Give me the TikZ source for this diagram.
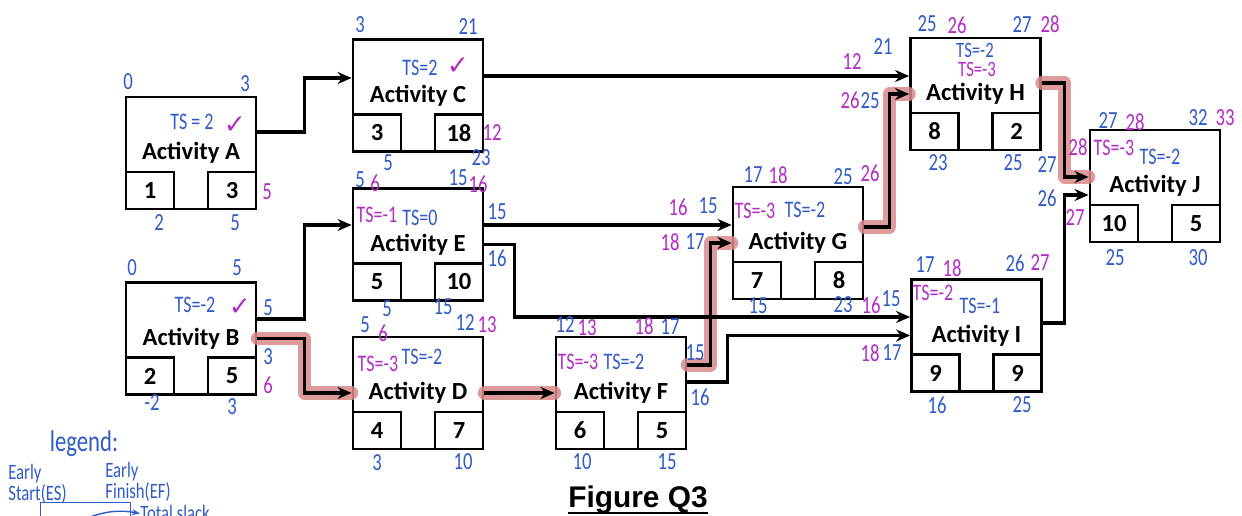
\documentclass[tikz,border=0pt]{standalone}
\usepackage{fontspec}
\setmainfont{Carlito}
\newfontfamily\handfont[FakeStretch=0.76]{Carlito}
\newfontfamily\symfont{DejaVu Sans}
\newfontfamily\figfont{Liberation Sans}
\usepackage{xcolor}
\definecolor{penblue}{HTML}{2E5BC8}
\definecolor{penpink}{HTML}{B22CC4}
\definecolor{hilite}{HTML}{D98A8A}
\usetikzlibrary{arrows.meta,calc}

\begin{document}
\begin{tikzpicture}[x=0.02cm,y=-0.02cm,
  act/.style={rectangle,draw,line width=1.6pt,minimum width=2.6cm,minimum height=2.24cm,inner sep=0pt,font=\bfseries\fontsize{14}{15}\selectfont},
  dur/.style={rectangle,draw,line width=1.6pt,minimum width=0.96cm,minimum height=0.74cm,inner sep=0pt,font=\bfseries\fontsize{14}{16}\selectfont},
  bl/.style={text=penblue,inner sep=0pt,font=\handfont\fontsize{14}{14}\selectfont},
  pk/.style={bl,text=penpink},
  tsb/.style={bl,font=\handfont\fontsize{13.5}{13.5}\selectfont},
  tsp/.style={tsb,text=penpink},
  tick/.style={text=penpink,inner sep=0pt,font=\symfont\fontsize{15}{15}\selectfont},
  arr/.style={-{Stealth[length=2.8mm,width=2.4mm]},line width=1.8pt},
  crit/.style={draw=hilite,line width=7.5pt,line cap=round,line join=round,opacity=0.85}
]
\useasboundingbox (0,0) rectangle (1242,516);
\clip (0,0) rectangle (1242,516);

% activity boxes
\node[act] (A) at (191,153) {Activity A};
\node[act] (B) at (191,338.5) {Activity B};
\node[act] (C) at (418,95.5) {Activity C};
\node[act] (E) at (418,244.5) {Activity E};
\node[act] (D) at (418,393) {Activity D};
\node[act] (F) at (621,393) {Activity F};
\node[act] (G) at (798,243) {Activity G};
\node[act] (H) at (975.5,94) {Activity H};
\node[act] (I) at (976.5,335.5) {Activity I};
\node[act] (J) at (1155,186) {Activity J};

% number and duration boxes
\node[dur,anchor=south west] (A1) at (A.south west) {1};
\node[dur,anchor=south east] (A2) at (A.south east) {3};
\node[dur,anchor=south west] (B1) at (B.south west) {2};
\node[dur,anchor=south east] (B2) at (B.south east) {5};
\node[dur,anchor=south west] (C1) at (C.south west) {3};
\node[dur,anchor=south east] (C2) at (C.south east) {18};
\node[dur,anchor=south west] (D1) at (D.south west) {4};
\node[dur,anchor=south east] (D2) at (D.south east) {7};
\node[dur,anchor=south west] (E1) at (E.south west) {5};
\node[dur,anchor=south east] (E2) at (E.south east) {10};
\node[dur,anchor=south west] (F1) at (F.south west) {6};
\node[dur,anchor=south east] (F2) at (F.south east) {5};
\node[dur,anchor=south west] (G1) at (G.south west) {7};
\node[dur,anchor=south east] (G2) at (G.south east) {8};
\node[dur,anchor=south west] (H1) at (H.south west) {8};
\node[dur,anchor=south east] (H2) at (H.south east) {2};
\node[dur,anchor=south west] (I1) at (I.south west) {9};
\node[dur,anchor=south east] (I2) at (I.south east) {9};
\node[dur,anchor=south west] (J1) at (J.south west) {10};
\node[dur,anchor=south east] (J2) at (J.south east) {5};

% critical path
\draw[crit] (B.east) -- ++(47,0) |- (D.west);
\draw[crit] (D.east) -- (F.west);
\draw[crit] ($(F.east)+(0,-28)$) -- ++(23,0) |- (G.west);
\draw[crit] ($(G.east)+(0,-16)$) -- ++(25,0) |- (H.west);
\draw[crit] ($(H.east)+(0,-11)$) -- ++(23,0) |- ($(J.west)+(0,-9)$);

% links
\coordinate (c2) at ($(C.east)+(0,-19.5)$);
\coordinate (e1) at ($(E.east)+(0,-19.5)$);
\draw[arr] ($(A.east)+(0,-21)$) -- ++(47,0) |- ($(C.west)+(0,-17.5)$);
\draw[arr] ($(B.east)+(0,-19.5)$) -- ++(47,0) |- ($(E.west)+(0,-19.5)$);
\draw[arr] (B.east) -- ++(47,0) |- (D.west);
\draw[arr] (c2) -- (c2 -| H.west);
\draw[arr] (e1) -- (e1 -| G.west);
\draw[arr] (E.east) -- ++(30,0) |- ($(I.west)+(0,-18.5)$);
\draw[arr] (D.east) -- (F.west);
\draw[arr] ($(F.east)+(0,-28)$) -- ++(23,0) |- (G.west);
\draw[arr] ($(F.east)+(0,-11)$) -- ++(40,0) |- (I.west);
\draw[arr] ($(G.east)+(0,-16)$) -- ++(25,0) |- (H.west);
\draw[arr] ($(H.east)+(0,-11)$) -- ++(23,0) |- ($(J.west)+(0,-9)$);
\draw[arr] ($(I.east)+(0,-12.5)$) -- ++(22,0) |- ($(J.west)+(0,9)$);

% notes on A
\node[bl] (esA) at (128,82) {0};
\node[bl] (efA) at (245,84) {3};
\node[tsb] (tsA) at (192,122) {TS = 2};
\node[tick] (okA) at (235,125) {✓};
\node[pk] (slA) at (267,192) {5};
\node[bl] (lsA) at (159,223) {2};
\node[bl] (lfA) at (235,223) {5};
% notes on B
\node[bl] (esB) at (132,268) {0};
\node[bl] (efB) at (237,268) {5};
\node[tsb] (tsB) at (195,305) {TS=-2};
\node[tick] (okB) at (240,307) {✓};
\node[bl] (outB1) at (268,308) {5};
\node[bl] (outB2) at (268,357) {3};
\node[pk] (outB3) at (268,385) {6};
\node[bl] (lsB) at (152,403) {-2};
\node[bl] (lfB) at (232,407) {3};
% notes on C
\node[bl] (esC) at (360,25) {3};
\node[bl] (efC) at (468,27) {21};
\node[tsb] (tsC) at (420,68) {TS=2};
\node[tick] (okC) at (458,66) {✓};
\node[pk] (slC) at (492,133) {12};
\node[bl] (lsC) at (388,163) {5};
\node[bl] (lfC) at (481,158) {23};
% notes on E
\node[bl] (esE) at (360,180) {5};
\node[pk] (esE2) at (375,183) {6};
\node[bl] (efE) at (458,178) {15};
\node[pk] (efE2) at (478,184) {16};
\node[tsp] (tsE) at (377,215) {TS=-1};
\node[tsb] (tsE2) at (420,218) {TS=0};
\node[bl] (outE1) at (497,212) {15};
\node[bl] (outE2) at (497,258) {16};
\node[bl] (lsE) at (387,309) {5};
\node[bl] (lfE) at (443,307) {15};
% notes on D
\node[bl] (esD) at (365,325) {5};
\node[pk] (esD2) at (383,333) {6};
\node[bl] (efD) at (465,323) {12};
\node[pk] (efD2) at (487,325) {13};
\node[tsp] (tsD) at (378,364) {TS=-3};
\node[tsb] (tsD2) at (422,357) {TS=-2};
\node[bl] (lsD) at (377,463) {3};
\node[bl] (lfD) at (463,462) {10};
% notes on F
\node[bl] (esF) at (565,325) {12};
\node[pk] (esF2) at (587,328) {13};
\node[pk] (efF2) at (644,326) {18};
\node[bl] (efF) at (670,327) {17};
\node[tsp] (tsF) at (578,362) {TS=-3};
\node[tsb] (tsF2) at (624,362) {TS=-2};
\node[bl] (outF1) at (695,353) {15};
\node[bl] (outF2) at (700,397) {16};
\node[bl] (lsF) at (582,462) {10};
\node[bl] (lfF) at (667,462) {15};
% notes on G
\node[bl] (esG) at (753,175) {17};
\node[pk] (esG2) at (778,175) {18};
\node[bl] (efG) at (843,177) {25};
\node[pk] (efG2) at (870,173) {26};
\node[tsp] (tsG) at (755,211) {TS=-3};
\node[tsb] (tsG2) at (805,210) {TS=-2};
\node[pk] (inG1) at (678,207) {16};
\node[bl] (inG2) at (708,206) {15};
\node[pk] (inG3) at (670,242) {18};
\node[bl] (inG4) at (695,242) {17};
\node[bl] (lsG) at (758,306) {15};
\node[bl] (lfG) at (843,305) {23};
% notes on H
\node[bl] (esH) at (927,24) {25};
\node[pk] (esH2) at (957,25) {26};
\node[bl] (efH) at (1022,25) {27};
\node[pk] (efH2) at (1050,24) {28};
\node[bl] (inH1) at (883,47) {21};
\node[pk] (inH2) at (852,62) {12};
\node[pk] (inH3) at (850,100) {26};
\node[bl] (inH4) at (870,101) {25};
\node[tsb,font=\handfont\fontsize{12.5}{12.5}\selectfont] (tsH) at (975,50) {TS=-2};
\node[tsp,font=\handfont\fontsize{12.5}{12.5}\selectfont] (tsH2) at (977,69) {TS=-3};
\node[bl] (lsH) at (938,163) {23};
\node[bl] (lfH) at (1013,163) {25};
% notes on I
\node[bl] (esI) at (925,265) {17};
\node[pk] (esI2) at (952,268) {18};
\node[bl] (efI) at (1015,263) {26};
\node[pk] (efI2) at (1040,263) {27};
\node[tsp] (tsI) at (933,293) {TS=-2};
\node[tsb] (tsI2) at (980,306) {TS=-1};
\node[pk] (inI1) at (871,305) {16};
\node[bl] (inI2) at (891,299) {15};
\node[pk] (inI3) at (870,353) {18};
\node[bl] (inI4) at (892,353) {17};
\node[bl] (lsI) at (937,405) {16};
\node[bl] (lfI) at (1022,405) {25};
% notes on J
\node[bl] (esJ) at (1108,121) {27};
\node[pk] (esJ2) at (1135,122) {28};
\node[bl] (efJ) at (1198,118) {32};
\node[pk] (efJ2) at (1225,118) {33};
\node[bl] (inJ1) at (1047,165) {27};
\node[pk] (inJ2) at (1078,147) {28};
\node[bl] (inJ3) at (1047,198) {26};
\node[pk] (inJ4) at (1075,218) {27};
\node[tsp] (tsJ) at (1114,148) {TS=-3};
\node[tsb] (tsJ2) at (1160,157) {TS=-2};
\node[bl] (lsJ) at (1115,258) {25};
\node[bl] (lfJ) at (1198,258) {30};

% legend
\node[bl,font=\handfont\fontsize{17}{17}\selectfont] (leg) at (84,444) {legend:};
\node[bl,align=left,anchor=west,font=\handfont\fontsize{12.5}{9.5}\selectfont] (legES) at (8,484) {Early\\Start(ES)};
\node[bl,align=left,anchor=west,font=\handfont\fontsize{12.5}{9.5}\selectfont] (legEF) at (105,482) {Early\\Finish(EF)};
\node[draw=penblue,line width=0.8pt,minimum width=1.8cm,minimum height=1cm,anchor=north west] (legbox) at (40,502) {};
\node[bl,anchor=base west,font=\handfont\fontsize{12.5}{12.5}\selectfont] (legTS) at (140,521) {Total slack};
\coordinate (arcfrom) at (87,518);
\draw[penblue,line width=0.8pt,-{Stealth[length=1.6mm]}] (arcfrom) to[bend left=15] (legTS.west);

% caption
\node[font=\figfont\bfseries\fontsize{17}{17}\selectfont,inner sep=0pt,anchor=base] (fig) at (638,508) {Figure Q3};
\draw[line width=1.3pt] ([yshift=-3pt]fig.base west) -- ([yshift=-3pt]fig.base east);
\end{tikzpicture}
\end{document}
